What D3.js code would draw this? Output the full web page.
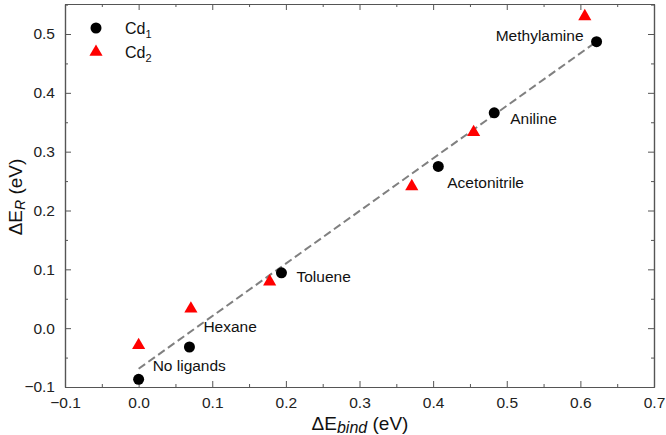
<!DOCTYPE html>
<html><head><meta charset="utf-8">
<script src="https://cdn.jsdelivr.net/npm/d3@7"></script>
<style>body{margin:0;background:#fff;} svg{display:block;font-family:"Liberation Sans",Arial,sans-serif;}</style>
</head><body><svg id="c" width="666" height="435"></svg>
<script>
const ligands = ["No ligands","Hexane","Toluene","Acetonitrile","Aniline","Methylamine"];
const cd1X = [0.000, 0.069, 0.194, 0.407, 0.483, 0.622];
const cd1Y = [-0.087, -0.032, 0.094, 0.275, 0.366, 0.487];
const cd2X = [0.000, 0.071, 0.178, 0.371, 0.455, 0.606];
const cd2Y = [-0.029, 0.033, 0.079, 0.241, 0.333, 0.530];
const fitX = [0.000, 0.622];
const fitY = [-0.069, 0.487];
const xTicks = [-0.1,0.0,0.1,0.2,0.3,0.4,0.5,0.6,0.7];
const yTicks = [-0.1,0.0,0.1,0.2,0.3,0.4,0.5];

const svg = d3.select("#c");
const L=65, R=654, T=4, B=387;
const x = d3.scaleLinear().domain([-0.1,0.7]).range([L,R]);
const y = d3.scaleLinear().domain([-0.1,0.551]).range([B,T]);
const axisCol = "#555";
const fmt = d3.format(".1f");
const minorX = d3.range(-0.05,0.7,0.1);
const minorY = d3.range(-0.05,0.55,0.1);

function styleAxis(g){ g.select(".domain").attr("stroke",axisCol).attr("stroke-width",1.2);
  g.selectAll(".tick line").attr("stroke",axisCol).attr("stroke-width",1);
  g.selectAll("text").attr("fill","#222").style("font-size","15.5px"); }

const fmtMinus = v => fmt(v).replace("-","\u2212");
svg.append("g").attr("transform",`translate(0,${B})`).call(d3.axisBottom(x).tickValues(xTicks).tickFormat(fmtMinus).tickSizeInner(-6).tickSizeOuter(0).tickPadding(10)).call(styleAxis);
svg.append("g").attr("transform",`translate(0,${B})`).call(d3.axisBottom(x).tickValues(minorX).tickFormat("").tickSizeInner(-3).tickSizeOuter(0)).call(styleAxis);
svg.append("g").attr("transform",`translate(0,${T})`).call(d3.axisTop(x).tickValues(xTicks).tickFormat("").tickSizeInner(-6).tickSizeOuter(0)).call(styleAxis);
svg.append("g").attr("transform",`translate(0,${T})`).call(d3.axisTop(x).tickValues(minorX).tickFormat("").tickSizeInner(-3).tickSizeOuter(0)).call(styleAxis);
svg.append("g").attr("transform",`translate(${L},0)`).call(d3.axisLeft(y).tickValues(yTicks).tickFormat(fmtMinus).tickSizeInner(-6).tickSizeOuter(0).tickPadding(10)).call(styleAxis);
svg.append("g").attr("transform",`translate(${L},0)`).call(d3.axisLeft(y).tickValues(minorY).tickFormat("").tickSizeInner(-3).tickSizeOuter(0)).call(styleAxis);
svg.append("g").attr("transform",`translate(${R},0)`).call(d3.axisRight(y).tickValues(yTicks).tickFormat("").tickSizeInner(-6).tickSizeOuter(0)).call(styleAxis);
svg.append("g").attr("transform",`translate(${R},0)`).call(d3.axisRight(y).tickValues(minorY).tickFormat("").tickSizeInner(-3).tickSizeOuter(0)).call(styleAxis);

// fit line
svg.append("path").datum(fitX.map((v,i)=>[v,fitY[i]]))
  .attr("d", d3.line().x(d=>x(d[0])).y(d=>y(d[1])))
  .attr("fill","none").attr("stroke","#808080").attr("stroke-width",2).attr("stroke-dasharray","8,4");

// Cd2 triangles
const tri = d3.symbol().type(d3.symbolTriangle).size(75);
svg.append("g").selectAll("path").data(cd2X.map((v,i)=>[v,cd2Y[i]])).join("path")
  .attr("d",tri).attr("transform",d=>`translate(${x(d[0])},${y(d[1])})`).attr("fill","#f00");
// Cd1 circles
svg.append("g").selectAll("circle").data(cd1X.map((v,i)=>[v,cd1Y[i]])).join("circle")
  .attr("cx",d=>x(d[0])).attr("cy",d=>y(d[1])).attr("r",5.5).attr("fill","#000");

// labels (offsets from Cd1 point)
const labelOff = [[14,-14,"start"],[14,-20,"start"],[15,4,"start"],[9,16,"start"],[16,6,"start"],[-13,-6,"end"]];
svg.append("g").selectAll("text").data(ligands).join("text")
  .attr("x",(d,i)=>x(cd1X[i])+labelOff[i][0]).attr("y",(d,i)=>y(cd1Y[i])+labelOff[i][1])
  .attr("dy","0.35em").attr("text-anchor",(d,i)=>labelOff[i][2])
  .style("font-size","15.5px").attr("fill","#111").text(d=>d);

// legend
const lg = svg.append("g");
lg.append("circle").attr("cx",96).attr("cy",28).attr("r",5.5).attr("fill","#000");
lg.append("path").attr("d",tri).attr("transform","translate(96,52)").attr("fill","#f00");
[["1",28],["2",52]].forEach(([s,yy])=>{
  const t = lg.append("text").attr("x",125).attr("y",yy).attr("dy","0.35em").style("font-size","16px").attr("fill","#111");
  t.append("tspan").text("Cd");
  t.append("tspan").attr("dy","4").style("font-size","11px").text(s);
});

// axis titles
const xt = svg.append("text").attr("x",360).attr("y",430).attr("text-anchor","middle").style("font-size","19px").attr("fill","#111");
xt.append("tspan").text("ΔE");
xt.append("tspan").attr("dy","3").style("font-style","italic").style("font-size","16px").text("bind");
xt.append("tspan").attr("dy","-3").text(" (eV)");
const yt = svg.append("text").attr("transform","translate(22,197) rotate(-90)").attr("text-anchor","middle").style("font-size","19px").attr("fill","#111");
yt.append("tspan").text("ΔE");
yt.append("tspan").attr("dy","3").style("font-style","italic").style("font-size","14px").text("R");
yt.append("tspan").attr("dy","-3").text(" (eV)");
</script></body></html>
